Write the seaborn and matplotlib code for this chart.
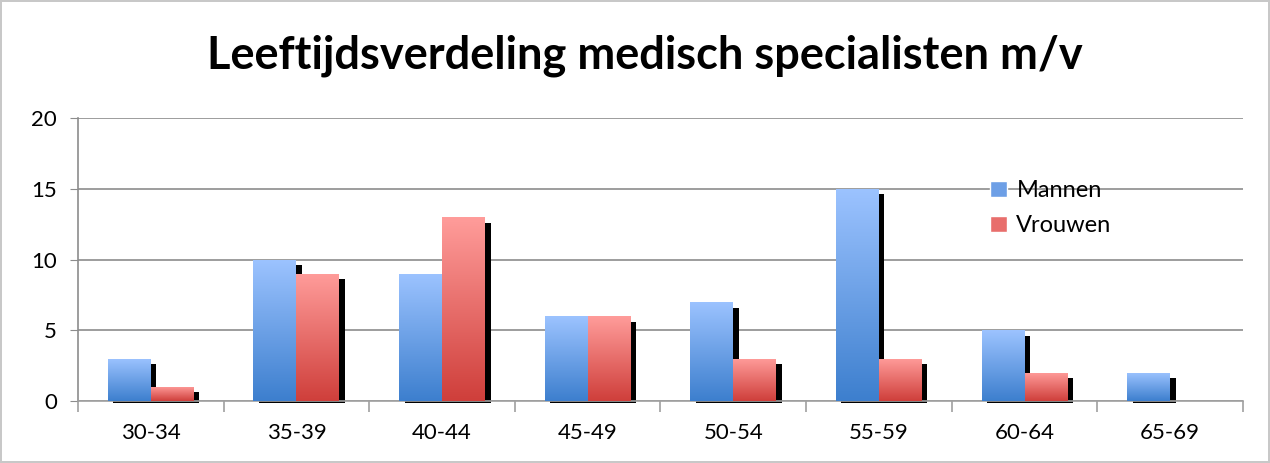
import numpy as np
import pandas as pd
import matplotlib
matplotlib.use("Agg")
import matplotlib.pyplot as plt
import matplotlib.transforms as mtransforms
from matplotlib.patches import Rectangle, Patch
import seaborn as sns

# data
leeftijd = ["30-34", "35-39", "40-44", "45-49", "50-54", "55-59", "60-64", "65-69"]
mannen = [3, 10, 9, 6, 7, 15, 5, 2]
vrouwen = [1, 9, 13, 6, 3, 3, 2, 0]

df = pd.DataFrame({
    "leeftijd": leeftijd * 2,
    "aantal": mannen + vrouwen,
    "geslacht": ["Mannen"] * len(mannen) + ["Vrouwen"] * len(vrouwen),
})

sns.set_style("white")
plt.rcParams["font.family"] = ["Lato", "DejaVu Sans"]
plt.rcParams["text.color"] = "black"
plt.rcParams["xtick.color"] = "black"
plt.rcParams["ytick.color"] = "black"

fig = plt.figure(figsize=(12.7, 4.63), dpi=100)
fig.patch.set_edgecolor("#c8c8c8")
fig.patch.set_linewidth(1.5)
ax = fig.add_axes([0.0614, 0.1339, 0.9173, 0.6112])

palette = {"Mannen": "#7aa8ee", "Vrouwen": "#ee7a78"}
sns.barplot(data=df, x="leeftijd", y="aantal", hue="geslacht", order=leeftijd,
            hue_order=["Mannen", "Vrouwen"], palette=palette, width=0.59,
            legend=False, ax=ax, zorder=3)

gradients = {
    "Mannen": ("#9cc3ff", "#3d7fce"),
    "Vrouwen": ("#ff9c9a", "#cf3f3b"),
}

def grad_img(top, bottom):
    t = np.array(matplotlib.colors.to_rgb(top))
    b = np.array(matplotlib.colors.to_rgb(bottom))
    s = np.linspace(0, 1, 100)[:, None]
    return (t + (b - t) * s)[:, None, :]

shadow_shift = mtransforms.ScaledTranslation(4 / 72, -4 / 72, fig.dpi_scale_trans)
clip_rect = Rectangle((0, -0.008), 1, 1.1, transform=ax.transAxes)

bars = list(ax.patches)
n = len(leeftijd)
for i, bar in enumerate(bars):
    key = "Mannen" if i < n else "Vrouwen"
    x0, y0 = bar.get_x(), bar.get_y()
    w, h = bar.get_width(), bar.get_height()
    if h <= 0:
        bar.set_visible(False)
        continue
    bar.set_facecolor("none")
    bar.set_edgecolor("none")
    img = ax.imshow(grad_img(*gradients[key]), extent=[x0, x0 + w, y0, y0 + h],
                    aspect="auto", zorder=3, origin="upper", interpolation="bilinear")
    img.set_clip_path(bar)
    sh = Rectangle((x0, y0), w, h, facecolor="black", edgecolor="none",
                   transform=ax.transData + shadow_shift, zorder=2)
    ax.add_patch(sh)
    sh.set_clip_path(clip_rect)

ax.set_xlim(-0.5, n - 0.5)
ax.set_ylim(0, 20)
ax.set_yticks([0, 5, 10, 15, 20])
ax.yaxis.grid(True, color="#8c8c8c", linewidth=1.2, zorder=0)
ax.set_axisbelow(True)
ax.set_xlabel("")
ax.set_ylabel("")

for side in ["top", "right"]:
    ax.spines[side].set_visible(False)
ax.spines["left"].set_color("#8c8c8c")
ax.spines["bottom"].set_color("#a0a0a0")
ax.spines["left"].set_linewidth(1.2)
ax.spines["bottom"].set_linewidth(1.2)

ax.tick_params(axis="y", left=True, length=6, color="#8c8c8c", labelsize=16, pad=9)
ax.tick_params(axis="x", which="major", length=0, labelsize=16, pad=16)
ax.set_xticks(np.arange(-0.5, n, 1.0), minor=True)
ax.tick_params(axis="x", which="minor", bottom=True, length=8, color="#a0a0a0", width=1.2)

fig.text(0.508, 0.88, "Leeftijdsverdeling medisch specialisten m/v",
         ha="center", va="center", fontsize=32.5, fontweight="bold")

handles = [Patch(facecolor="#6d9fe6", label="Mannen"),
           Patch(facecolor="#e86e6c", label="Vrouwen")]
ax.legend(handles=handles, loc="upper left", bbox_to_anchor=(0.765, 0.855),
          frameon=False, fontsize=17, handlelength=0.7, handleheight=0.7,
          handletextpad=0.4, labelspacing=0.6)

fig.savefig("out.png", dpi=100)
